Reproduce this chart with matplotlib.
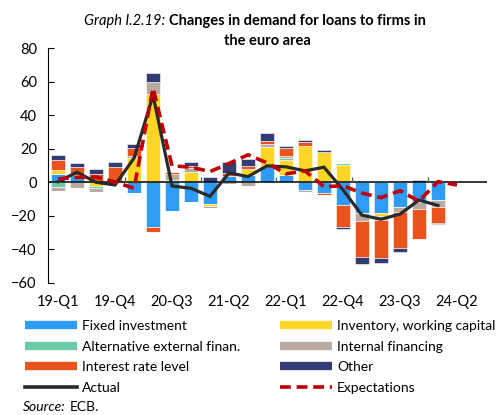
import matplotlib
matplotlib.use("Agg")
import matplotlib.pyplot as plt
from matplotlib.lines import Line2D
import numpy as np

plt.rcParams['font.family'] = ['Lato', 'DejaVu Sans']

# quarters 19-Q1 .. 24-Q2
quarters = ['19-Q1', '19-Q2', '19-Q3', '19-Q4', '20-Q1', '20-Q2', '20-Q3', '20-Q4',
            '21-Q1', '21-Q2', '21-Q3', '21-Q4', '22-Q1', '22-Q2', '22-Q3', '22-Q4',
            '23-Q1', '23-Q2', '23-Q3', '23-Q4', '24-Q1', '24-Q2']

# contributions (bars end at 24-Q1)
fixed_inv = [5, 4.5, 0, 0, -6.5, -26.7, -17.3, -11.6, -12.8, 3.8, 4.4, 9.6,
             4.4, -4.6, -6.4, -13.6, -18.3, -18.2, -14.5, -11.8, -10.8]
inventory = [2.4, 0, -2, 0, 14.6, 52.5, 1.4, 6.4, -1.1, 0, 3.6, 11.5,
             9, 21.8, 18, 10.2, 0, -1.6, 0, 0, 0]
alt_fin = [-2.8, 0, -1.5, 0, 0, 0, 0, 0, 0, 0, 0, 0,
           1.1, 0, 0, 1.2, 0, -1.2, 0, 0.4, 0]
internal_fin = [-2.4, -3.6, -2.4, 0, 1, 7, 3.6, 2.4, -1.3, -1, -2, 1.5,
                1.2, -1, 0, 0, -4.8, -1.6, -3.2, -4.2, -3.8]
interest = [6, 4.6, 5.2, 9.4, 5, -2.8, 1, 1, 0, 1.6, 1.8, 1.8,
            4.6, 2.4, -1, -13, -21.3, -22.5, -21.2, -17.6, -9.5]
other = [2.7, 2.5, 2.6, 2.6, 2, 5.6, 0, 2.4, 3.4, 6.6, 4, 5.1,
         1.5, 1, 1.4, -1.2, -4.3, -2.8, -2.7, 1.1, -0.7]

actual = [0.4, 6, 0, -1.6, 14.4, 51.8, -2.2, -3.6, -8.4, 5.6, 3.4, 9.8,
          9.2, 6.8, 9, -4.5, -19.6, -22, -19, -10.6, -13.8]
expectations = [2, 3, 3.2, 0.2, -3.6, 56.2, 9.8, 9, 6.4, 11.2, 16.4, 11.6,
                5, 6.8, -2.6, -2.1, -6.4, -9.2, -5, -11.3, 0.4, -1.6]

series = [
    ('Fixed investment', fixed_inv, '#2e9bf5'),
    ('Inventory, working capital', inventory, '#ffd624'),
    ('Alternative external finan.', alt_fin, '#6ccaa6'),
    ('Internal financing', internal_fin, '#b8aaa0'),
    ('Interest rate level', interest, '#e8541c'),
    ('Other', other, '#343c74'),
]

fig = plt.figure(figsize=(5.03, 4.15), dpi=100)
ax = fig.add_axes([0.0954, 0.3181, 0.8727, 0.5662])

x = np.arange(len(fixed_inv))
pos_base = np.zeros(len(x))
neg_base = np.zeros(len(x))
for name, vals, col in series:
    v = np.array(vals, dtype=float)
    pos = np.where(v > 0, v, 0)
    neg = np.where(v < 0, v, 0)
    ax.bar(x, pos, 0.74, bottom=pos_base, color=col, edgecolor='white', linewidth=0.4, zorder=2)
    ax.bar(x, neg, 0.74, bottom=neg_base, color=col, edgecolor='white', linewidth=0.4, zorder=2)
    pos_base += pos
    neg_base += neg

ax.axhline(0, color='black', linewidth=1.1, zorder=3)
# year separators on the zero line
ax.vlines(np.arange(3.5, len(x), 4), 0, 3, color='#555555', linewidth=0.9, zorder=3)

ax.plot(x, actual, color='#2a2a2a', linewidth=2.3, zorder=4, solid_joinstyle='miter')
ax.plot(np.arange(len(expectations)), expectations, color='#c00000', linewidth=2.6,
        linestyle=(0, (3, 1.6)), zorder=5)

ax.set_xlim(-0.53, 22.58)
ax.set_ylim(-60, 80)
ax.set_yticks(range(-60, 81, 20))
ax.set_xticks(range(0, len(quarters), 3))
ax.set_xticklabels(quarters[::3])
ax.tick_params(axis='y', direction='in', length=4, width=0.8, labelsize=10.5, pad=8)
ax.tick_params(axis='x', length=0, labelsize=10.5, pad=9)
for s in ['top', 'right', 'bottom']:
    ax.spines[s].set_visible(False)
ax.spines['left'].set_linewidth(0.8)

# title
fig.text(0.328, 0.949, 'Graph I.2.19:', style='italic', fontsize=10.5, ha='right', va='center')
fig.text(0.336, 0.949, 'Changes in demand for loans to firms in', fontweight='bold',
         fontsize=10.5, ha='left', va='center')
fig.text(0.531, 0.901, 'the euro area', fontweight='bold', fontsize=10.5, ha='center', va='center')

h = {name: Line2D([], [], color=col, linewidth=6, solid_capstyle='butt') for name, _, col in series}
h['Actual'] = Line2D([], [], color='#2a2a2a', linewidth=2.6)
h['Expectations'] = Line2D([], [], color='#c00000', linewidth=2.6, linestyle=(0, (3, 1.6)))

col1 = ['Fixed investment', 'Alternative external finan.', 'Interest rate level', 'Actual']
col2 = ['Inventory, working capital', 'Internal financing', 'Other', 'Expectations']
for names, xa in [(col1, 0.05), (col2, 0.557)]:
    fig.legend([h[n] for n in names], names, loc='upper left', bbox_to_anchor=(xa, 0.229),
               frameon=False, fontsize=10, handlelength=3.7, handletextpad=0.4,
               labelspacing=0.62, borderpad=0, borderaxespad=0)

src = fig.text(0.045, 0.02, 'Source:', style='italic', fontsize=10, va='center')
fig.canvas.draw()
bb = src.get_window_extent().transformed(fig.transFigure.inverted())
fig.text(bb.x1 + 0.008, 0.02, 'ECB.', fontsize=10, va='center')

fig.savefig('out.png', dpi=100)
